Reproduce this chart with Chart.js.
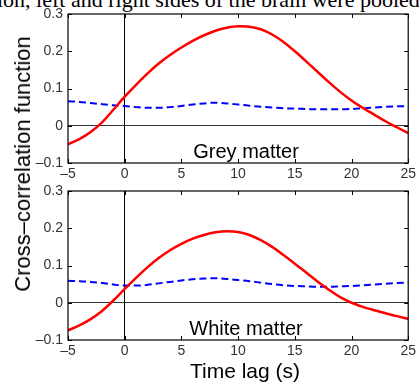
<!DOCTYPE html>
<html>
<head>
<meta charset="utf-8">
<script src="https://cdn.jsdelivr.net/npm/chart.js@4/dist/chart.umd.min.js"></script>
<style>
  html, body { margin: 0; padding: 0; background: #fff; }
  #wrap { position: relative; width: 419px; height: 383px; overflow: hidden; }
  canvas { position: absolute; left: 0; }
  .txt { position: absolute; white-space: nowrap; color: #000; }
  #caption { left: -3px; top: -13px; font: 22px 'Liberation Serif', serif; }
  #ylab { left: 23px; top: 164px; font: 22px 'Liberation Sans', Arial, sans-serif; transform: translate(-50%, -50%) rotate(-90deg); }
  #xlab { left: 245px; top: 371px; font: 21px 'Liberation Sans', Arial, sans-serif; transform: translate(-50%, -50%); }
</style>
</head>
<body>
<div id="wrap">
  <div class="txt" id="caption">ion, left and right sides of the brain were pooled.</div>
  <canvas id="greyChart" width="419" height="178" style="top:0"></canvas>
  <canvas id="whiteChart" width="419" height="178" style="top:177px"></canvas>
  <div class="txt" id="ylab">Cross&#8211;correlation function</div>
  <div class="txt" id="xlab">Time lag (s)</div>
</div>
<script>
// 数据
const lags = [-5, -4, -3, -2, -1, 0, 1, 2, 3, 4, 5, 6, 7, 8, 9, 10, 11, 12, 13, 14, 15, 16, 17, 18, 19, 20, 21, 22, 23, 24, 25];
const xTicks = [-5, 0, 5, 10, 15, 20, 25];
const yTicks = [-0.1, 0, 0.1, 0.2, 0.3];

const greyRed = [-0.05, -0.036, -0.017, 0.009, 0.043, 0.078, 0.11, 0.14, 0.167, 0.19, 0.21, 0.228, 0.243, 0.255, 0.263, 0.267, 0.266, 0.259, 0.245, 0.225, 0.2, 0.173, 0.145, 0.117, 0.091, 0.068, 0.048, 0.03, 0.012, -0.004, -0.02];
const greyBlue = [0.066, 0.064, 0.061, 0.058, 0.055, 0.053, 0.05, 0.048, 0.048, 0.05, 0.053, 0.057, 0.06, 0.062, 0.06, 0.057, 0.054, 0.051, 0.049, 0.047, 0.046, 0.045, 0.044, 0.044, 0.044, 0.045, 0.047, 0.049, 0.051, 0.052, 0.053];

const whiteRed = [-0.074, -0.061, -0.044, -0.022, 0.006, 0.037, 0.067, 0.095, 0.12, 0.141, 0.158, 0.172, 0.182, 0.189, 0.192, 0.19, 0.182, 0.168, 0.15, 0.128, 0.105, 0.081, 0.057, 0.035, 0.015, 0.0, -0.011, -0.02, -0.028, -0.036, -0.043];
const whiteBlue = [0.059, 0.058, 0.056, 0.053, 0.049, 0.046, 0.046, 0.048, 0.052, 0.056, 0.06, 0.063, 0.065, 0.066, 0.064, 0.061, 0.058, 0.054, 0.05, 0.047, 0.045, 0.044, 0.043, 0.043, 0.044, 0.045, 0.047, 0.049, 0.051, 0.053, 0.054];

const FONT = "'Liberation Sans', Arial, sans-serif";

/** 格式化刻度（MATLAB 风格长负号） */
function fmt(v) {
  const s = String(Math.round(v * 10) / 10);
  return s.replace('-', '\u2013');
}

/** 边框、内向刻度与面板标题 */
const framePlugin = {
  id: 'frame',
  afterDraw(chart, args, opts) {
    const { ctx, chartArea: a, scales } = chart;
    ctx.save();
    ctx.strokeStyle = '#000';
    ctx.lineWidth = 1.2;
    ctx.strokeRect(a.left, a.top, a.right - a.left, a.bottom - a.top);
    ctx.lineWidth = 1;
    xTicks.forEach(v => {
      const x = Math.round(scales.x.getPixelForValue(v)) + 0.5;
      ctx.beginPath();
      ctx.moveTo(x, a.bottom); ctx.lineTo(x, a.bottom - 4);
      ctx.moveTo(x, a.top); ctx.lineTo(x, a.top + 4);
      ctx.stroke();
    });
    yTicks.forEach(v => {
      const y = Math.round(scales.y.getPixelForValue(v)) + 0.5;
      ctx.beginPath();
      ctx.moveTo(a.left, y); ctx.lineTo(a.left + 4, y);
      ctx.moveTo(a.right, y); ctx.lineTo(a.right - 4, y);
      ctx.stroke();
    });
    ctx.fillStyle = '#000';
    ctx.font = '20px ' + FONT;
    ctx.textAlign = 'center';
    ctx.textBaseline = 'middle';
    ctx.fillText(opts.label, scales.x.getPixelForValue(opts.lx), scales.y.getPixelForValue(opts.ly));
    ctx.restore();
  }
};

function makeChart(id, red, blue, label) {
  return new Chart(document.getElementById(id), {
    type: 'line',
    data: {
      datasets: [
        {
          data: lags.map((x, i) => ({ x, y: red[i] })),
          borderColor: '#ff0000',
          borderWidth: 2.5,
          pointRadius: 0,
          cubicInterpolationMode: 'monotone'
        },
        {
          data: lags.map((x, i) => ({ x, y: blue[i] })),
          borderColor: '#0000ff',
          borderWidth: 2,
          borderDash: [7, 4],
          pointRadius: 0,
          cubicInterpolationMode: 'monotone'
        }
      ]
    },
    options: {
      responsive: false,
      animation: false,
      layout: { padding: { top: 14, right: 9, left: 0, bottom: 0 } },
      plugins: {
        legend: { display: false },
        tooltip: { enabled: false },
        frame: { label, lx: 10.7, ly: -0.071 }
      },
      scales: {
        x: {
          type: 'linear',
          min: -5, max: 25,
          afterFit: s => { s.height = 15; },
          afterBuildTicks: s => { s.ticks = xTicks.map(value => ({ value })); },
          border: { display: false },
          grid: {
            drawTicks: false,
            color: c => c.tick && c.tick.value === 0 ? '#000' : 'rgba(0,0,0,0)',
            lineWidth: 1
          },
          ticks: { padding: 3, color: '#333', font: { family: FONT, size: 14 }, callback: v => fmt(v), maxRotation: 0, autoSkip: false }
        },
        y: {
          min: -0.1, max: 0.3,
          afterFit: s => { s.width = 68; },
          afterBuildTicks: s => { s.ticks = yTicks.map(value => ({ value })); },
          border: { display: false },
          grid: {
            drawTicks: false,
            color: c => c.tick && Math.abs(c.tick.value) < 1e-9 ? '#333' : 'rgba(0,0,0,0)',
            lineWidth: 1
          },
          ticks: { padding: 5, color: '#333', font: { family: FONT, size: 14 }, callback: v => fmt(v) }
        }
      }
    },
    plugins: [framePlugin]
  });
}

makeChart('greyChart', greyRed, greyBlue, 'Grey matter');
makeChart('whiteChart', whiteRed, whiteBlue, 'White matter');
</script>
</body>
</html>
